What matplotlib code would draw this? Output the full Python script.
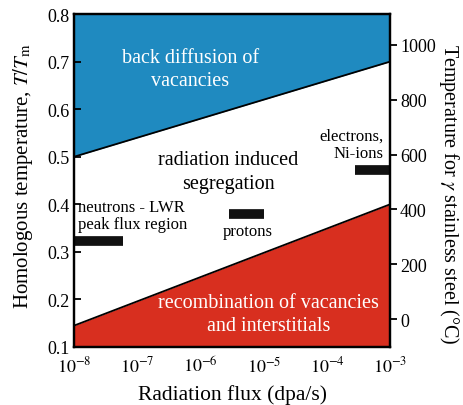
import numpy as np
import matplotlib.pyplot as plt

plt.rcParams['font.family'] = ['Liberation Serif', 'DejaVu Serif']
plt.rcParams['mathtext.fontset'] = 'stix'

# regime boundaries in homologous temperature at the flux limits
flux_ends = [1e-8, 1e-3]
upper_line = [0.50, 0.70]
lower_line = [0.145, 0.40]

# experimental conditions: flux range and homologous temperature
bar_labels = ['neutrons - LWR\npeak flux region', 'protons', 'electrons,\nNi-ions']
bar_flux_lo = [1e-8, 2.8e-6, 2.8e-4]
bar_flux_hi = [6e-8, 1e-5, 1e-3]
bar_temp = [0.323, 0.38, 0.472]

T_melt = 1730.0  # K, austenitic stainless steel
temp_ticks = [0, 200, 400, 600, 800, 1000]

fig = plt.figure(figsize=(4.64, 4.06), dpi=100)
ax = fig.add_axes([0.160, 0.143, 0.681, 0.820])

x = np.logspace(-8, -3, 200)
up = np.interp(np.log10(x), np.log10(flux_ends), upper_line)
lo = np.interp(np.log10(x), np.log10(flux_ends), lower_line)

ax.fill_between(x, up, 0.8, color='#1f8ac0', lw=0)
ax.fill_between(x, 0.1, lo, color='#d82f1f', lw=0)
ax.plot(flux_ends, upper_line, color='k', lw=1.3)
ax.plot(flux_ends, lower_line, color='k', lw=1.3)

for f0, f1, t in zip(bar_flux_lo, bar_flux_hi, bar_temp):
    ax.plot([f0, f1], [t, t], color='#111111', lw=7, solid_capstyle='butt')

ax.set_xscale('log')
ax.set_xlim(1e-8, 1e-3)
ax.set_ylim(0.1, 0.8)
ax.set_xticks([1e-8, 1e-7, 1e-6, 1e-5, 1e-4, 1e-3])
ax.set_xticklabels([r'$10^{-%d}$' % k for k in range(8, 2, -1)])
ax.minorticks_off()
ax.tick_params(axis='both', direction='in', labelsize=13, length=5, width=1.3)
ax.tick_params(axis='x', length=0, pad=6)
for s in ax.spines.values():
    s.set_linewidth(1.6)

ax.set_xlabel('Radiation flux (dpa/s)', fontsize=15.5, labelpad=6)
ax.set_ylabel(r'Homologous temperature, $T/T_{\mathrm{m}}$', fontsize=15)
ax.yaxis.set_label_coords(-0.125, 0.516)

ax2 = ax.twinx()
ax2.set_ylim(0.1 * T_melt - 273, 0.8 * T_melt - 273)
ax2.set_yticks(temp_ticks)
ax2.tick_params(axis='y', direction='out', labelsize=13, length=5, width=1.3, pad=2)
ax2.set_ylabel(r'Temperature for $\gamma$ stainless steel (°C)', fontsize=14.5,
               rotation=270, va='bottom')
ax2.yaxis.set_label_coords(1.149, 0.462)
for s in ax2.spines.values():
    s.set_linewidth(1.6)

ax.text(10**-6.165, 0.684, 'back diffusion of\nvacancies', ha='center', va='center',
        color='white', fontsize=14.5, linespacing=1.3)
ax.text(10**-5.56, 0.469, 'radiation induced\nsegregation', ha='center', va='center',
        color='k', fontsize=14.5, linespacing=1.3)
ax.text(10**-4.93, 0.169, 'recombination of vacancies\nand interstitials', ha='center',
        va='center', color='white', fontsize=14.5, linespacing=1.3)
ax.text(10**-7.94, 0.377, bar_labels[0], ha='left', va='center', fontsize=12,
        linespacing=1.05)
ax.text(10**-5.25, 0.344, bar_labels[1], ha='center', va='center', fontsize=12)
ax.text(10**-3.11, 0.526, bar_labels[2], ha='right', va='center', fontsize=12,
        linespacing=1.15)

fig.savefig('out.png', dpi=100)
